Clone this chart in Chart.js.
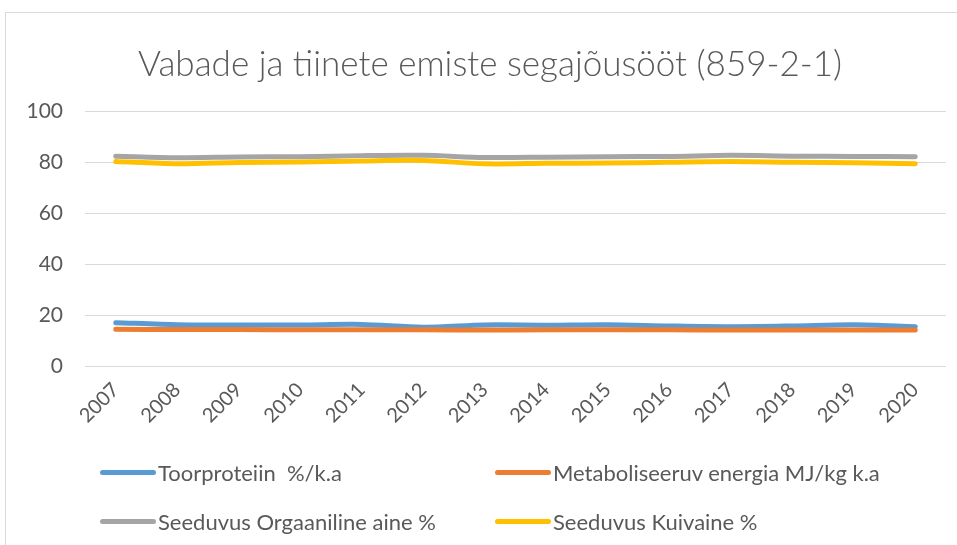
<!DOCTYPE html>
<html>
<head>
<meta charset="utf-8">
<script src="https://cdn.jsdelivr.net/npm/chart.js@4"></script>
<style>
    body { margin: 0; background: #fff; overflow: hidden; }
    #wrap { position: relative; width: 957px; height: 545px; }
    #frame { position: absolute; left: 5px; top: 12px; width: 1000px; height: 600px; border: 1px solid #d9d9d9; box-sizing: border-box; }
    #chart { position: absolute; left: 0; top: 0; }
    #title { position: absolute; left: 90px; width: 800px; top: 37px; text-align: center; font-family: Lato, "Open Sans", sans-serif; font-size: 35px; font-weight: 300; color: #595959; white-space: nowrap; line-height: 50px; }
    .legend-item { position: absolute; font-family: Lato, "Open Sans", sans-serif; font-size: 22px; color: #595959; display: flex; align-items: center; white-space: pre; }
    .legend-line { display: inline-block; width: 56px; height: 5px; border-radius: 3px; margin-right: 2px; }
</style>
</head>
<body>
<div id="wrap">
    <div id="frame"></div>
    <canvas id="chart" width="957" height="545"></canvas>
    <div id="title">Vabade ja tiinete emiste segajõusööt (859-2-1)</div>
    <div id="legend"></div>
</div>
<script>
    // данные графика
    const years = ['2007', '2008', '2009', '2010', '2011', '2012', '2013', '2014', '2015', '2016', '2017', '2018', '2019', '2020'];
    const toorproteiin = [17.0, 16.2, 16.1, 16.1, 16.3, 15.2, 16.1, 16.0, 16.2, 15.7, 15.4, 15.7, 16.2, 15.4];
    const metaboliseeruv = [14.4, 14.3, 14.3, 14.2, 14.2, 14.2, 14.1, 14.2, 14.2, 14.2, 14.1, 14.1, 14.1, 14.1];
    const orgaaniline = [82.3, 81.7, 82.0, 82.1, 82.5, 82.6, 81.8, 81.9, 82.1, 82.2, 82.6, 82.3, 82.2, 82.1];
    const kuivaine = [80.2, 79.3, 79.8, 80.0, 80.4, 80.6, 79.3, 79.5, 79.6, 79.9, 80.2, 79.9, 79.7, 79.3];
    const yTicks = [0, 20, 40, 60, 80, 100];

    const seriesNames = ['Toorproteiin  %/k.a', 'Metaboliseeruv energia MJ/kg k.a', 'Seeduvus Orgaaniline aine %', 'Seeduvus Kuivaine %'];
    const seriesColors = ['#5b9bd5', '#ed7d31', '#a5a5a5', '#ffc000'];
    const seriesData = [toorproteiin, metaboliseeruv, orgaaniline, kuivaine];

    const textColor = '#595959';
    const fontFamily = 'Lato, "Open Sans", sans-serif';

    new Chart(document.getElementById('chart'), {
        type: 'line',
        data: {
            labels: years,
            datasets: seriesData.map((values, i) => ({
                label: seriesNames[i],
                data: values,
                borderColor: seriesColors[i],
                backgroundColor: seriesColors[i],
                borderWidth: 5,
                borderCapStyle: 'round',
                borderJoinStyle: 'round',
                pointRadius: 0,
                tension: 0.3,
                // рисуем снизу вверх как в excel
                order: 4 - i,
            })),
        },
        options: {
            responsive: false,
            animation: false,
            // заголовок и легенда в HTML, тут только место под них
            layout: {padding: {left: 0, right: 11, top: 111, bottom: 119}},
            plugins: {
                legend: {display: false},
                tooltip: {enabled: false},
            },
            scales: {
                x: {
                    offset: true,
                    grid: {display: false},
                    border: {display: false},
                    ticks: {
                        color: textColor,
                        font: {family: fontFamily, size: 20},
                        minRotation: 45,
                        maxRotation: 45,
                        padding: 4,
                    },
                    afterFit: (scale) => { scale.height = 60; },
                },
                y: {
                    min: 0,
                    max: 100,
                    afterBuildTicks: (scale) => { scale.ticks = yTicks.map((v) => ({value: v})); },
                    grid: {color: '#d9d9d9', lineWidth: 1, drawTicks: false},
                    border: {display: false},
                    ticks: {
                        color: textColor,
                        font: {family: fontFamily, size: 21},
                        padding: 22,
                    },
                    afterFit: (scale) => { scale.width = 85; },
                },
            },
        },
    });

    // легенда в две колонки
    const legendEl = document.getElementById('legend');
    const legendPos = [[100, 473], [495, 473], [100, 522], [495, 522]];
    seriesNames.forEach((name, i) => {
        const item = document.createElement('div');
        item.className = 'legend-item';
        item.style.left = legendPos[i][0] + 'px';
        item.style.top = (legendPos[i][1] - 14) + 'px';
        const line = document.createElement('span');
        line.className = 'legend-line';
        line.style.backgroundColor = seriesColors[i];
        const span = document.createElement('span');
        span.textContent = name;
        item.appendChild(line);
        item.appendChild(span);
        legendEl.appendChild(item);
    });
</script>
</body>
</html>
